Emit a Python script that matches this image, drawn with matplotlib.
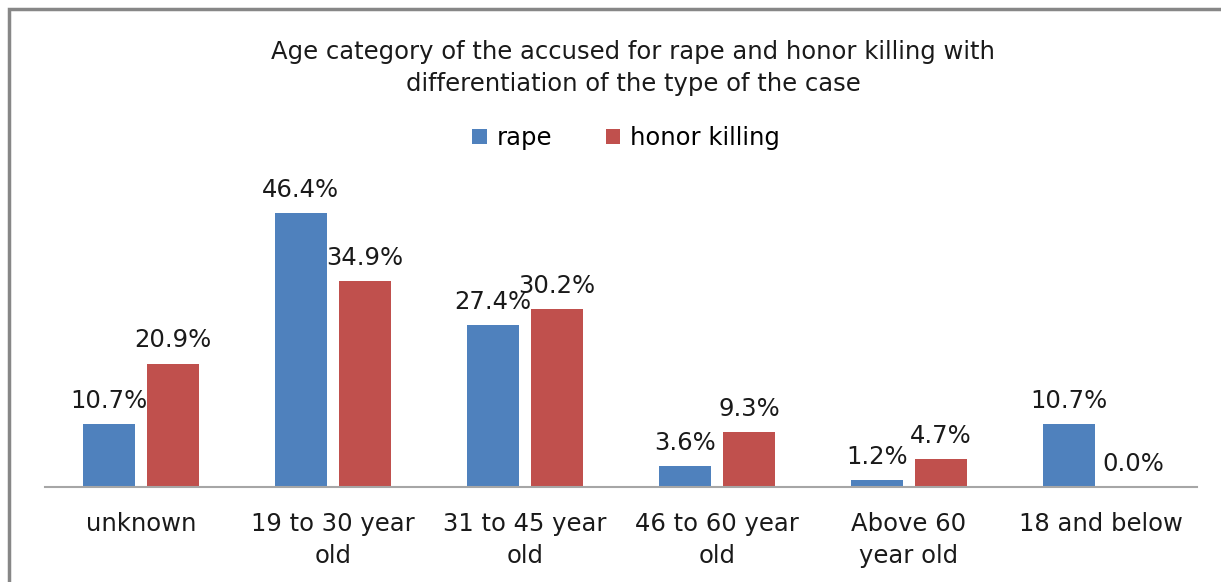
import matplotlib
matplotlib.use("Agg")
import matplotlib.pyplot as plt
from matplotlib.patches import Rectangle
import numpy as np

categories = ["unknown", "19 to 30 year\nold", "31 to 45 year\nold", "46 to 60 year\nold",
              "Above 60\nyear old", "18 and below"]
rape = [10.7, 46.4, 27.4, 3.6, 1.2, 10.7]
honor = [20.9, 34.9, 30.2, 9.3, 4.7, 0.0]
series_names = ["rape", "honor killing"]
colors = ["#4F81BD", "#C0504D"]

plt.rcParams['font.family'] = ['DejaVu Sans']

W, H = 1221, 582
fig = plt.figure(figsize=(W / 100, H / 100), dpi=100)

ymax = 50
px_per = 274 / 46.4
top_px = 487 - ymax * px_per
ax = fig.add_axes([45 / W, 1 - 487 / H, (1197 - 45) / W, (487 - top_px) / H])

fs = 17.5
x = np.arange(len(categories))
bw = 0.27
off = 0.167
for vals, o, c, name in [(rape, -off, colors[0], series_names[0]), (honor, off, colors[1], series_names[1])]:
    ax.bar(x + o, vals, width=bw, color=c, label=name)
    for xi, v in zip(x + o, vals):
        ax.annotate(f"{v:.1f}%", (xi, v), xytext=(0, 8), textcoords="offset points",
                    ha="center", va="bottom", fontsize=fs, color="#1a1a1a")

ax.set_xlim(-0.5, len(categories) - 0.5)
ax.set_ylim(0, ymax)
for s in ["top", "right", "left"]:
    ax.spines[s].set_visible(False)
ax.spines["bottom"].set_color("#A6A6A6")
ax.spines["bottom"].set_linewidth(1.5)
ax.set_yticks([])
ax.set_xticks(x)
ax.set_xticklabels(categories, fontsize=fs, linespacing=1.4, color="#1a1a1a")
ax.tick_params(axis="x", length=0, pad=18)

fig.text(633 / W, 1 - 68 / H, "Age category of the accused for rape and honor killing with\ndifferentiation of the type of the case",
         ha="center", va="center", fontsize=fs, linespacing=1.4, color="#1a1a1a")

handles, labels = ax.get_legend_handles_labels()
fig.legend(handles, labels, loc="center", bbox_to_anchor=(626 / W, 1 - 138 / H), ncol=2,
           frameon=False, fontsize=fs, handlelength=0.6, handleheight=0.6,
           handletextpad=0.4, columnspacing=2.2)

fig.patches.append(Rectangle((9 / W, -0.1), 2, 0.1 + (1 - 9 / H), transform=fig.transFigure,
                             fill=False, edgecolor="#878787", linewidth=2.5))

fig.savefig("out.png", dpi=100)
